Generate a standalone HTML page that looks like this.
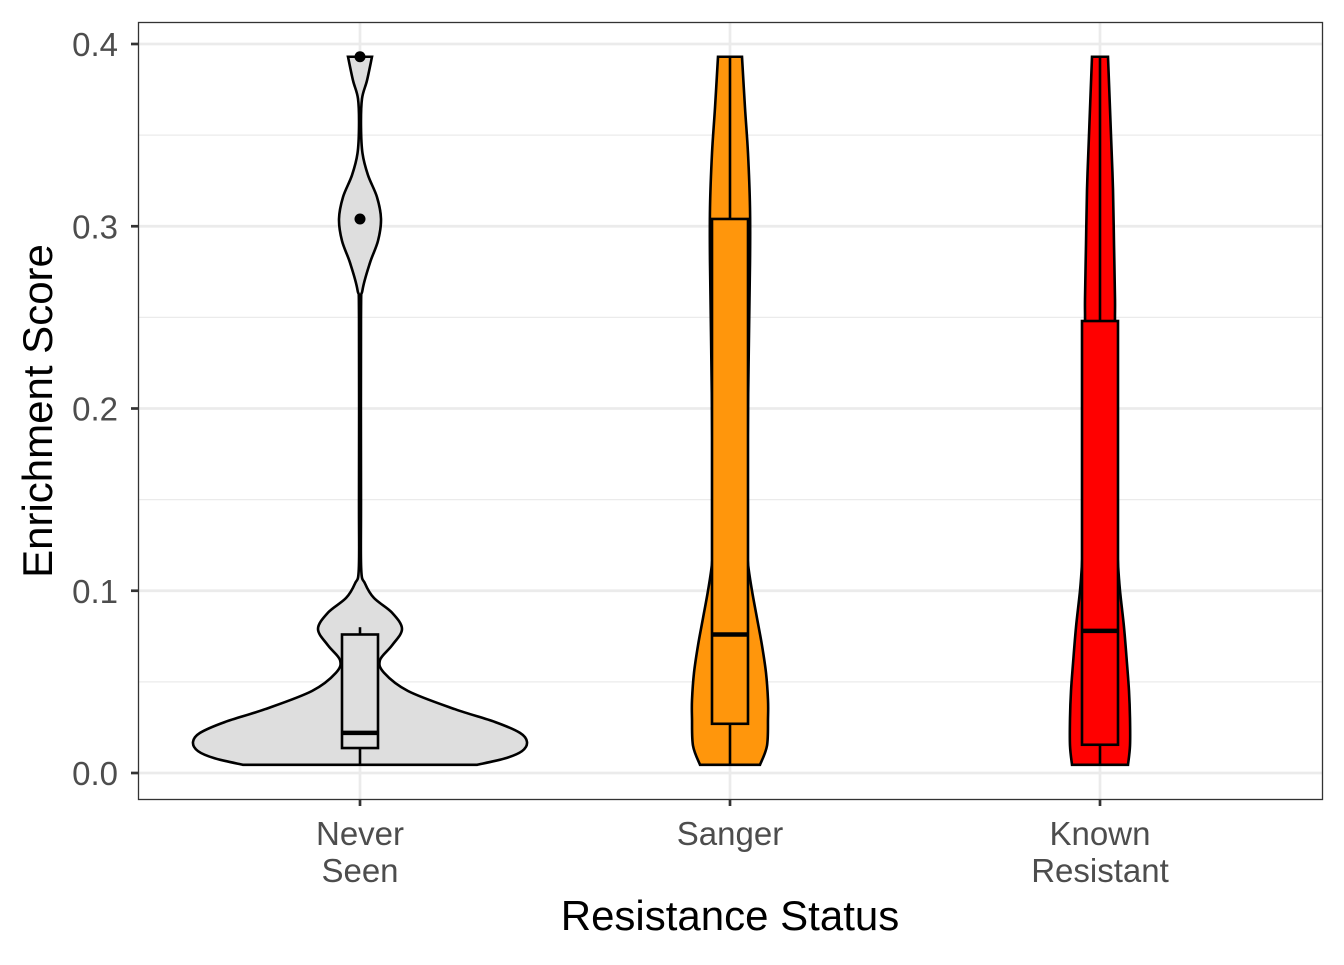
<!DOCTYPE html>
<html><head><meta charset="utf-8"><style>
body{margin:0;background:#fff;}
svg text{font-family:"Liberation Sans",Arial,sans-serif;}
</style></head><body>
<svg id="chart" width="1344" height="960" viewBox="0 0 1344 960" xmlns="http://www.w3.org/2000/svg">
<rect x="0" y="0" width="1344" height="960" fill="#fff"/>
<g id="grid"></g>
<g id="marks"></g>
<rect x="138.5" y="22.5" width="1184" height="777" fill="none" stroke="#333" stroke-width="1.3"/>
<g id="axes"></g>
<text transform="translate(52,411) rotate(-90)" text-anchor="middle" font-size="42" fill="#000">Enrichment Score</text>
<text x="730" y="930" text-anchor="middle" font-size="42" fill="#000">Resistance Status</text>
</svg>
<script>
const categories = ["Never Seen", "Sanger", "Known Resistant"];
const catLabels = [["Never", " Seen"], ["Sanger"], ["Known", "Resistant"]];
const fills = ["#dedede", "#ff960c", "#ff0000"];
const yTicks = [0, 0.1, 0.2, 0.3, 0.4];
const yTickLabels = ["0.0", "0.1", "0.2", "0.3", "0.4"];
const yMinor = [0.05, 0.15, 0.25, 0.35];
// violin profiles: value and half-width (px)
const violinValues = [
  [0.0045,0.008,0.012,0.017,0.022,0.028,0.035,0.045,0.055,0.062,0.07,0.079,0.088,0.096,0.104,0.112,0.15,0.25,0.265,0.28,0.292,0.304,0.316,0.328,0.34,0.355,0.37,0.38,0.393],
  [0.0045,0.015,0.03,0.04,0.055,0.07,0.085,0.1,0.115,0.13,0.2,0.28,0.31,0.34,0.365,0.393],
  [0.0045,0.015,0.03,0.045,0.06,0.08,0.1,0.115,0.13,0.2,0.245,0.26,0.29,0.32,0.35,0.393]
];
const violinWidths = [
  [117,145,162,167,160,135,95,48,24,20,32,42,32,14,5,1.2,1,1,2.5,10,18,21,17,8,2.5,1,2,7,12],
  [30,37,38,38,36,32,27,22,18,17,18,20,20,18,15,12],
  [28,30,30,29,27,24,20,18,17,16,15,15,14,13,11,8]
];
const q1 = [0.0137, 0.027, 0.0155];
const medians = [0.022, 0.076, 0.078];
const q3 = [0.076, 0.304, 0.248];
const whiskLo = [0.0045, 0.0045, 0.0045];
const whiskHi = [0.080, 0.393, 0.393];
const outlierCat = [0, 0];
const outlierVal = [0.393, 0.304];

const NS="http://www.w3.org/2000/svg";
const y = v => 773 - v*1822.5;
const x = i => 360 + i*370;
const boxHalf = 18;
function el(tag, attrs, parent){const e=document.createElementNS(NS,tag);for(const k in attrs)e.setAttribute(k,attrs[k]);parent.appendChild(e);return e;}
const grid=document.getElementById('grid'), marks=document.getElementById('marks'), axes=document.getElementById('axes');
yMinor.forEach(v=>{const l=el('line',{x1:138,x2:1322,y1:y(v),y2:y(v),stroke:'#ebebeb','stroke-width':1.3},grid);

});
yTicks.forEach((v,i)=>{const l=el('line',{x1:138,x2:1322,y1:y(v),y2:y(v),stroke:'#ebebeb','stroke-width':2.7},grid);


const t=el('line',{x1:131,x2:138,y1:y(v),y2:y(v),stroke:'#333','stroke-width':2.7},axes);


const tx=el('text',{x:118,y:y(v)+12,'text-anchor':'end','font-size':33,fill:'#4d4d4d'},axes);tx.textContent=yTickLabels[i];

});
categories.forEach((c,i)=>{const l=el('line',{x1:x(i),x2:x(i),y1:22,y2:799,stroke:'#ebebeb','stroke-width':2.7},grid);


const t=el('line',{x1:x(i),x2:x(i),y1:799,y2:806,stroke:'#333','stroke-width':2.7},axes);


catLabels[i].forEach((s,j)=>{const tx=el('text',{x:x(i),y:845+j*37,'text-anchor':'middle','font-size':33,fill:'#4d4d4d','xml:space':'preserve'},axes);tx.textContent=s;

});});
function spline(pts){let d='M'+pts[0][0]+','+pts[0][1];for(let i=0;i<pts.length-1;i++){const p0=pts[Math.max(0,i-1)],p1=pts[i],p2=pts[i+1],p3=pts[Math.min(pts.length-1,i+2)];
const c1=[p1[0]+(p2[0]-p0[0])/6,p1[1]+(p2[1]-p0[1])/6],c2=[p2[0]-(p3[0]-p1[0])/6,p2[1]-(p3[1]-p1[1])/6];
d+=' C'+c1[0]+','+c1[1]+' '+c2[0]+','+c2[1]+' '+p2[0]+','+p2[1];}return d;}
categories.forEach((c,i)=>{
  const vals=violinValues[i], w=violinWidths[i];
  const right=vals.map((v,k)=>[x(i)+w[k],y(v)]);
  const left=vals.map((v,k)=>[x(i)-w[k],y(v)]).reverse();
  let d=spline(right)+' L'+left[0][0]+','+left[0][1]+spline(left).replace(/^M[^ C]+/,'')+' Z';
  const p=el('path',{d:d,fill:fills[i],stroke:'#000','stroke-width':2.6},marks);
  
  
  const wl=el('line',{x1:x(i),x2:x(i),y1:y(whiskLo[i]),y2:y(q1[i]),stroke:'#000','stroke-width':2.6},marks);
  
  
  const wh=el('line',{x1:x(i),x2:x(i),y1:y(q3[i]),y2:y(whiskHi[i]),stroke:'#000','stroke-width':2.6},marks);
  
  
  const b=el('rect',{x:x(i)-boxHalf,y:y(q3[i]),width:boxHalf*2,height:y(q1[i])-y(q3[i]),fill:fills[i],stroke:'#000','stroke-width':2.6},marks);
  
  
  const m=el('line',{x1:x(i)-boxHalf,x2:x(i)+boxHalf,y1:y(medians[i]),y2:y(medians[i]),stroke:'#000','stroke-width':4.5},marks);
  
  
});
outlierVal.forEach((v,k)=>{const o=el('circle',{cx:x(outlierCat[k]),cy:y(v),r:5.5,fill:'#000'},marks);

});
</script>
</body></html>
